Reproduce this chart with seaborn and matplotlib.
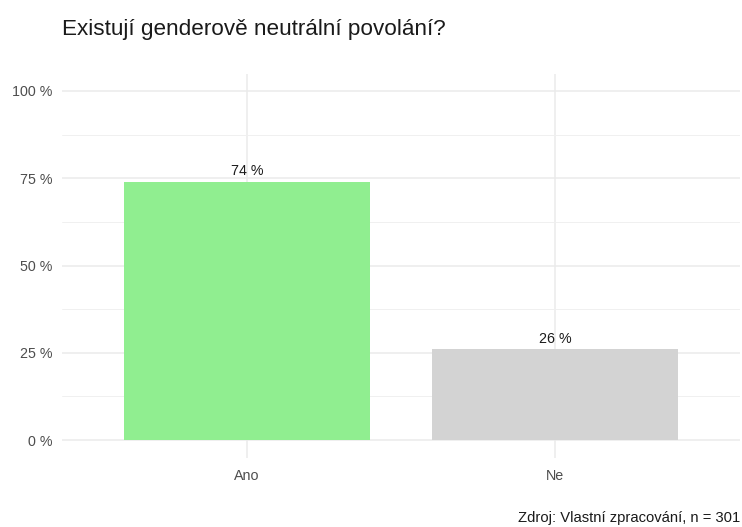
import matplotlib
matplotlib.use("Agg")
import matplotlib.pyplot as plt
import seaborn as sns
import pandas as pd
from matplotlib.ticker import FixedLocator

categories = ["Ano", "Ne"]
values = [74, 26]
bar_colors = ["#90EE90", "#D3D3D3"]
yticks = [0, 25, 50, 75, 100]
ytick_labels = ["0 %", "25 %", "50 %", "75 %", "100 %"]
title = "Existují genderově neutrální povolání?"
caption = "Zdroj: Vlastní zpracování, n = 301"

sns.set_theme(style="white")
plt.rcParams['font.family'] = ['Liberation Sans', 'DejaVu Sans']

df = pd.DataFrame({"cat": categories, "val": values})

W, H = 742, 527
fig = plt.figure(figsize=(W / 100, H / 100), dpi=100)
left, right, top, bottom = 62, 740, 73.5, 457.5
ax = fig.add_axes([left / W, 1 - bottom / H, (right - left) / W, (bottom - top) / H])

sns.barplot(data=df, x="cat", y="val", hue="cat", palette=bar_colors, width=0.8,
            legend=False, ax=ax, saturation=1, linewidth=0)

ax.set_xlim(-0.6, 1.6)
ax.set_ylim(-5, 105)
ax.yaxis.set_major_locator(FixedLocator(yticks))
ax.set_yticklabels(ytick_labels)
ax.yaxis.set_minor_locator(FixedLocator([12.5, 37.5, 62.5, 87.5]))
ax.grid(True, which="major", axis="both", color="#EBEBEB", linewidth=1.1, zorder=0)
ax.grid(True, which="minor", axis="y", color="#F0F0F0", linewidth=0.7, zorder=0)
ax.set_axisbelow(True)
for s in ax.spines.values():
    s.set_visible(False)
ax.tick_params(axis="both", which="both", length=0, colors="#4D4D4D", labelsize=10.3)
ax.tick_params(axis="y", pad=7)
ax.tick_params(axis="x", pad=8)
ax.set_xlabel("")
ax.set_ylabel("")

for i, v in enumerate(values):
    ax.text(i, v + 1.0, f"{v} %", ha="center", va="bottom", fontsize=10.3, color="#1A1A1A")

fig.text(62 / W, 1 - 30 / H, title, ha="left", va="center", fontsize=16.2, color="#1A1A1A")
fig.text(740 / W, 1 - 518 / H, caption, ha="right", va="center", fontsize=10.6, color="#1A1A1A")

fig.savefig("out.png", dpi=100, facecolor="white")
